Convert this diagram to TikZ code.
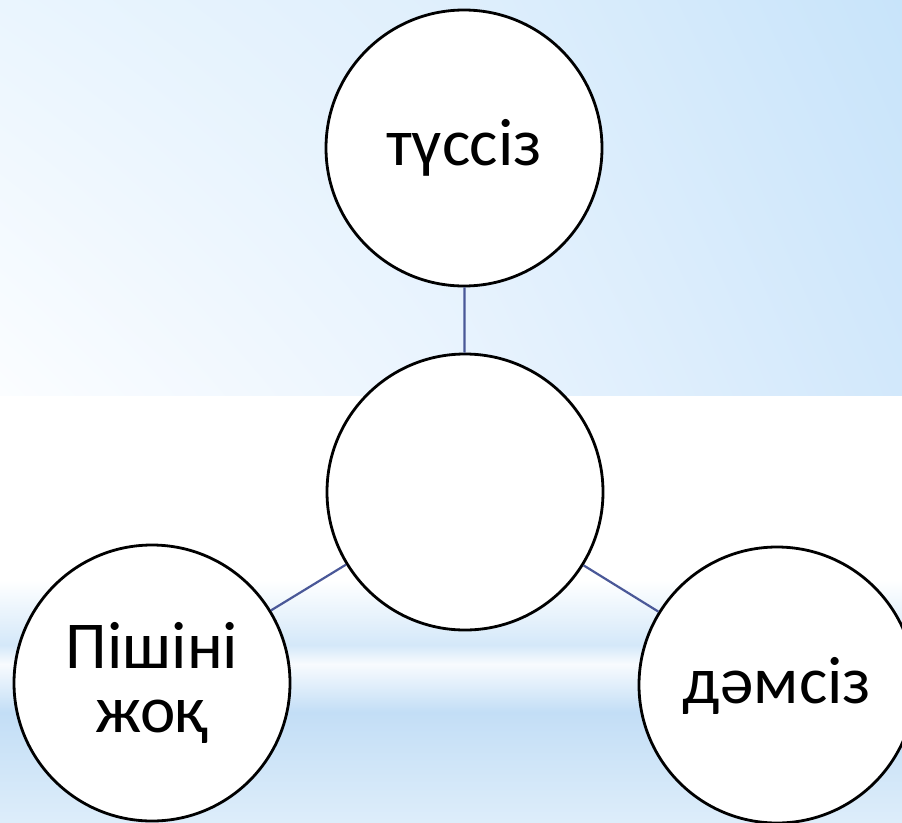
\documentclass[tikz,border=0pt]{standalone}
\usepackage{fontspec}
\setmainfont{Carlito}
\usetikzlibrary{shadings}
\begin{document}
\begin{tikzpicture}[x=1pt,y=-1pt,
  bubble/.style={circle,draw=black,line width=2.8pt,fill=white,minimum size=276pt,inner sep=0pt,
    font=\fontsize{67}{72}\selectfont},
  link/.style={draw=linkblue,line width=2.2pt}]
\definecolor{linkblue}{HTML}{4A5898}
\definecolor{tUL}{HTML}{EAF5FE}
\definecolor{tLL}{HTML}{FBFDFF}
\definecolor{tUM}{HTML}{DFEFFC}
\definecolor{tLM}{HTML}{EAF4FE}
\definecolor{tUR}{HTML}{C8E4FA}
\definecolor{tLR}{HTML}{D2E8FB}
\definecolor{bandA}{HTML}{D4E8F9}
\definecolor{bandB}{HTML}{F8FBFE}
\definecolor{bandC}{HTML}{C3DEF6}
\definecolor{bandD}{HTML}{DDEDFA}
\useasboundingbox (0,0) rectangle (902,822);
% top background
\shade[upper left=tUL,upper right=tUM,lower left=tLL,lower right=tLM] (0,0) rectangle (451,396);
\shade[upper left=tUM,upper right=tUR,lower left=tLM,lower right=tLR] (451,0) rectangle (902,396);
% bottom background
\fill[white] (0,396) rectangle (902,580);
\shade[top color=white,bottom color=bandA] (0,580) rectangle (902,645);
\shade[top color=bandA,bottom color=bandB] (0,645) rectangle (902,664);
\shade[top color=bandB,bottom color=bandC] (0,664) rectangle (902,712);
\shade[top color=bandC,bottom color=bandD] (0,712) rectangle (902,822);
% circles
\node[bubble] (top) at (464,148) {\raisebox{-17pt}[0pt][0pt]{түссіз}};
\node[bubble] (mid) at (465,492) {};
\node[bubble] (left) at (152,683) {\raisebox{15pt}[0pt][0pt]{\makebox[0pt]{Пішіні}}\raisebox{-49pt}[0pt][0pt]{\makebox[0pt]{жоқ}}};
\node[bubble] (right) at (777,685) {\raisebox{-18pt}[0pt][0pt]{дәмсіз}};
% connectors
\draw[link] (top) -- (mid);
\draw[link] (mid) -- (left);
\draw[link] (mid) -- (right);
\end{tikzpicture}
\end{document}
